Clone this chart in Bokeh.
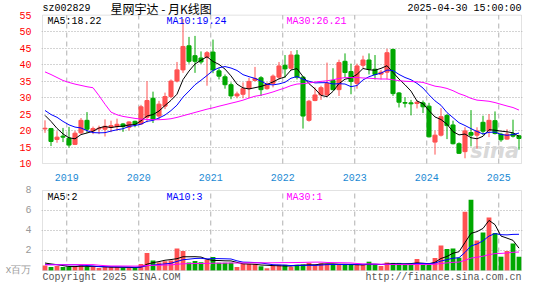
import numpy as np
import pandas as pd
from bokeh.plotting import figure
from bokeh.models import ColumnDataSource, FixedTicker, Label, Range1d, BoxAnnotation
from bokeh.core.properties import value
from bokeh.layouts import column
from bokeh.embed import file_html
from bokeh.resources import INLINE

# ---------------- data (monthly, Sep 2018 .. Apr 2025) ----------------
months = pd.period_range("2018-09", "2025-04", freq="M")

open_ = [20.5, 20.6, 17.3, 18.3, 17.7, 15.8, 19.3, 23.1, 19.9, 20.5,
         20.4, 21.0, 21.2, 22.0, 21.0, 22.8, 22.0, 24.0, 29.8, 24.4,
         27.4, 30.3, 35.0, 38.4, 45.7, 42.7, 42.0, 42.2, 43.8, 38.1,
         36.3, 33.9, 30.5, 31.0, 32.7, 35.2, 36.0, 32.7, 34.3, 36.2,
         39.8, 38.9, 42.9, 36.2, 23.1, 29.1, 30.8, 30.8, 35.2, 32.4,
         41.0, 37.9, 34.3, 39.8, 41.4, 38.6, 37.1, 37.7, 44.6, 31.4,
         28.5, 28.4, 28.2, 28.4, 27.4, 16.5, 18.6, 24.6, 21.7, 16.0,
         13.6, 19.4, 18.6, 22.5, 20.0, 23.0, 18.9, 17.4, 19.0, 18.4]
high = [23.1, 20.8, 19.8, 20.8, 21.1, 19.9, 23.8, 25.6, 21.2, 21.5,
        23.4, 23.0, 23.6, 22.3, 22.8, 23.0, 27.8, 35.0, 31.8, 29.0,
        31.5, 35.5, 40.8, 53.8, 48.4, 48.7, 44.0, 44.1, 47.6, 38.9,
        37.0, 34.6, 31.8, 34.6, 36.0, 39.3, 36.5, 34.6, 37.0, 40.8,
        42.9, 44.1, 44.4, 36.5, 29.3, 33.1, 33.6, 40.6, 38.9, 41.5,
        43.4, 40.3, 40.3, 42.7, 43.4, 42.9, 38.4, 44.8, 44.8, 31.7,
        30.1, 29.3, 29.1, 29.1, 28.4, 20.0, 26.8, 25.0, 23.0, 16.4,
        21.0, 26.2, 21.0, 24.5, 25.0, 25.8, 19.3, 20.4, 23.3, 18.7]
low = [19.3, 15.3, 16.3, 16.5, 14.8, 15.6, 19.0, 19.3, 18.9, 18.9,
       18.2, 19.5, 20.0, 19.6, 20.0, 21.0, 21.7, 22.5, 22.3, 23.5,
       26.5, 29.8, 34.6, 37.5, 40.3, 37.5, 40.2, 33.6, 37.4, 35.5,
       32.7, 29.5, 29.8, 29.8, 29.8, 34.9, 30.5, 32.4, 33.1, 35.5,
       36.0, 38.4, 35.5, 20.6, 22.7, 28.9, 29.3, 30.5, 32.2, 30.5,
       36.0, 31.0, 32.7, 39.0, 37.0, 35.5, 35.5, 35.5, 30.5, 27.0,
       27.0, 24.6, 26.7, 25.3, 17.9, 12.7, 18.2, 17.4, 15.8, 12.9,
       11.6, 15.2, 14.5, 18.6, 18.0, 18.8, 16.6, 17.2, 17.9, 14.2]
close = [20.7, 16.7, 18.0, 18.0, 15.6, 19.2, 23.1, 20.4, 20.6, 20.7,
         21.3, 21.5, 21.9, 21.2, 22.6, 21.9, 27.2, 29.1, 23.4, 28.0,
         30.3, 35.0, 38.4, 45.5, 41.0, 41.0, 40.8, 43.6, 38.4, 36.5,
         33.9, 30.5, 31.1, 32.7, 34.9, 35.8, 32.4, 34.1, 36.5, 39.6,
         38.7, 42.9, 36.2, 24.4, 28.9, 30.8, 33.0, 34.3, 32.4, 40.6,
         37.6, 34.9, 39.6, 41.4, 38.6, 37.0, 37.7, 43.6, 31.2, 28.6,
         28.3, 28.1, 28.6, 27.2, 18.1, 18.6, 24.2, 21.5, 16.0, 13.1,
         19.9, 18.6, 19.9, 19.8, 23.1, 19.1, 17.2, 18.9, 18.3, 17.6]
# volume, millions of shares
volume = [0.50, 0.35, 0.45, 0.35, 0.35, 0.45, 0.55, 0.35, 0.35, 0.25,
          0.35, 0.35, 0.35, 0.25, 0.25, 0.25, 0.66, 1.75, 1.00, 0.80,
          0.92, 1.00, 2.20, 1.95, 0.80, 0.95, 0.82, 1.10, 1.35, 0.78,
          0.78, 0.78, 0.35, 0.66, 0.66, 0.66, 0.42, 0.22, 0.50, 0.57,
          0.57, 0.35, 0.57, 0.60, 0.75, 0.57, 0.72, 0.66, 0.62, 0.57,
          0.57, 0.57, 0.55, 0.55, 0.88, 0.55, 0.45, 0.80, 0.76, 0.76,
          0.57, 0.57, 1.15, 0.57, 0.55, 1.25, 2.50, 2.15, 2.20, 1.28,
          5.87, 7.08, 3.00, 3.80, 5.30, 3.75, 1.38, 1.95, 2.70, 1.38]
# earlier months (not drawn, only feed the moving averages), estimated
prior_close = [40.7, 45.0, 45.0, 33.6, 34.2, 35.1, 32.4, 29.6, 92.7, 99.3,
               93.5, 45.9, 36.2, 31.6, 30.9, 33.2, 32.1, 26.4, 28.0, 27.3,
               29.0, 26.4, 30.5, 26.0, 26.0, 25.8, 28.6, 26.4, 21.5]
prior_volume = [0.33, 0.33, 0.33, 0.33, 0.33, 0.33, 0.33, 0.33, 2.00, 1.80,
                1.20, 0.33, 0.39, 0.39, 0.39, 0.39, 0.39, 0.39, 0.39, 0.39,
                0.45, 0.45, 0.45, 0.45, 0.45, 0.81, 0.81, 0.81, 0.81]

price_ticks = [10, 15, 20, 25, 30, 35, 40, 45, 50, 55]
volume_ticks = [0, 2, 4, 6, 8]
ma_windows = [5, 10, 30]
ma_colors = ["#000000", "#0000ff", "#ff00ff"]

stock_code = "sz002829"
chart_title = "星网宇达 - 月K线图"
timestamp = "2025-04-30 15:00:00"
volume_unit = "x百万"
copyright_text = "Copyright 2025 SINA.COM"
site_text = "http://finance.sina.com.cn"

# ---------------- derived ----------------
n = len(close)
idx = np.arange(n)


def moving_avg(prior, vals, w):
    s = pd.Series(list(prior) + list(vals)).rolling(w).mean().to_numpy()
    return s[len(prior):]


ma_price = {w: moving_avg(prior_close, close, w) for w in ma_windows}
ma_vol = {w: moving_avg(prior_volume, volume, w) for w in ma_windows}

RED = "#ff5252"
GREEN = "#00a800"
colors = [RED if c >= o else GREEN for o, c in zip(open_, close)]

src = ColumnDataSource(dict(
    x=idx, o=open_, h=high, l=low, c=close, v=volume,
    top=[max(a, b) for a, b in zip(open_, close)],
    bot=[min(a, b) for a, b in zip(open_, close)],
    color=colors,
))

jan = [i for i, m in enumerate(months) if m.month == 1]
year_pos = [j - 0.375 for j in jan]
year_labels = {pos: str(months[j].year) for pos, j in zip(year_pos, jan)}

FONT = "Liberation Mono"
CJK = "Noto Sans CJK SC"
W = 529
PX = 6.0                      # pixels per month
x0 = -2.5 / PX                # left edge of the chart box
x1 = x0 + 479 / PX            # right edge of the chart box
pad = 1 / PX
xr = Range1d(x0 - pad, x1 + pad)

# price panel geometry: box 152 px for 10..55, 15 px header strip inside frame
KP = 152 / 45.0
p_lo, p_hi = 10, 55
py_range = Range1d(p_lo - 1 / KP, p_hi + 15 / KP)
# volume panel geometry: box 80 px for 0..8, 14 px footer strip inside frame
KV = 10.0
v_lo, v_hi = 0, 8
vy_range = Range1d(v_lo - 14 / KV, v_hi + 1 / KV)

BORDER = "#a0a0a0"


def base_style(fig):
    fig.background_fill_color = "white"
    fig.border_fill_color = "white"
    fig.outline_line_color = None
    fig.xgrid.visible = False
    fig.ygrid.grid_line_color = "#a8a8a8"
    fig.ygrid.grid_line_dash = "1 2"
    fig.yaxis.axis_line_color = None
    fig.yaxis.major_tick_line_color = None
    fig.yaxis.minor_tick_line_color = None
    fig.yaxis.major_label_standoff = 4
    fig.yaxis.major_label_text_font = FONT
    fig.yaxis.major_label_text_font_size = "10px"


# ---------------- price panel ----------------
p = figure(width=W, height=183, x_range=xr, y_range=py_range,
           output_backend="svg", toolbar_location=None, title=None,
           min_border_left=41, min_border_right=7, min_border_top=0,
           min_border_bottom=15)
base_style(p)
p.yaxis.ticker = FixedTicker(ticks=price_ticks)
p.ygrid.ticker = FixedTicker(ticks=price_ticks[1:-1])
p.ygrid.bounds = (x0, x1)
p.yaxis.major_label_text_color = "#ff0000"
p.xaxis.ticker = FixedTicker(ticks=year_pos)
p.xaxis.major_label_overrides = year_labels
p.xaxis.axis_line_color = None
p.xaxis.major_tick_line_color = None
p.xaxis.minor_tick_line_color = None
p.xaxis.major_label_standoff = 3
p.xaxis.major_label_text_color = "#1a8ad4"
p.xaxis.major_label_text_font = FONT
p.xaxis.major_label_text_font_size = "10px"

# year separators
p.segment(x0=year_pos, y0=[p_lo] * len(year_pos), x1=year_pos, y1=[p_hi] * len(year_pos),
          line_color="#b0b0b0", line_dash="5 4", line_width=1)

p.text(x=[x1 - 0.4], y=[p_lo + 0.2], text=["sina"], text_color="#d2d2d2",
       text_alpha=0.85, text_font=value("DejaVu Sans"), text_font_size="21px",
       text_font_style="bold italic", text_baseline="bottom", text_align="right")

p.segment(x0="x", y0="h", x1="x", y1="l", source=src, line_color="color", line_width=1)
p.vbar(x="x", width=0.68, top="top", bottom="bot", source=src,
       fill_color="color", line_color="color", line_width=1)
for w, col in zip(ma_windows, ma_colors):
    p.line(idx, ma_price[w], line_color=col, line_width=1)

p.add_layout(BoxAnnotation(left=x0, right=x1, bottom=p_lo, top=p_hi,
                           fill_color=None, line_color=BORDER, line_width=1))

label_dx = [5, 124, 244]          # px from the box's left edge
for w, col, dx in zip(ma_windows, ma_colors, label_dx):
    p.add_layout(Label(x=x0 + dx / PX, y=p_hi - 6.5 / KP,
                       text=f"MA{w}:{ma_price[w][-1]:.2f}", text_color=col,
                       text_font=FONT, text_font_size="10px", text_baseline="middle"))

# header strip (inside the frame, above the box)
hy = p_hi + 6.3 / KP
p.text(x=[x0], y=[hy], text=[stock_code], text_font=value(FONT),
       text_font_size="10px", text_color="black", text_baseline="middle")
p.text(x=[x0 + 68 / PX], y=[hy + 0.4 / KP], text=[chart_title], text_font=value(CJK),
       text_font_size="12px", text_color="black", text_baseline="middle")
p.text(x=[x1], y=[hy], text=[timestamp], text_font=value(FONT),
       text_font_size="10px", text_color="black", text_baseline="middle",
       text_align="right")

# ---------------- volume panel ----------------
v = figure(width=W, height=101, x_range=xr, y_range=vy_range,
           output_backend="svg", toolbar_location=None, title=None,
           x_axis_location=None,
           min_border_left=41, min_border_right=7, min_border_top=6,
           min_border_bottom=0)
base_style(v)
v.yaxis.ticker = FixedTicker(ticks=volume_ticks)
v.yaxis.major_label_overrides = {0: volume_unit}
v.ygrid.ticker = FixedTicker(ticks=volume_ticks[1:-1])
v.ygrid.bounds = (x0, x1)
v.yaxis.major_label_text_color = "#999999"

v.segment(x0=year_pos, y0=[v_lo] * len(year_pos), x1=year_pos, y1=[v_hi] * len(year_pos),
          line_color="#b0b0b0", line_dash="5 4", line_width=1)
v.vbar(x="x", width=0.8, top="v", bottom=0, source=src, fill_color="color", line_color=None)
for w, col in zip(ma_windows, ma_colors):
    v.line(idx, ma_vol[w], line_color=col, line_width=1)

v.add_layout(BoxAnnotation(left=x0, right=x1, bottom=v_lo, top=v_hi,
                           fill_color=None, line_color=BORDER, line_width=1))

for w, col, dx in zip(ma_windows, ma_colors, label_dx):
    v.add_layout(Label(x=x0 + dx / PX, y=v_hi - 6.5 / KV,
                       text=f"MA{w}:{int(ma_vol[w][-1])}", text_color=col,
                       text_font=FONT, text_font_size="10px", text_baseline="middle"))

# footer strip (inside the frame, below the box)
fy = v_lo - 7 / KV
v.text(x=[x0], y=[fy], text=[copyright_text], text_font=value(FONT),
       text_font_size="10px", text_color="#555555", text_baseline="middle")
v.text(x=[x1], y=[fy], text=[site_text], text_font=value(FONT),
       text_font_size="10px", text_color="#555555", text_baseline="middle",
       text_align="right")

layout = column(p, v, spacing=0)
open("out.html", "w").write(file_html(layout, INLINE))
